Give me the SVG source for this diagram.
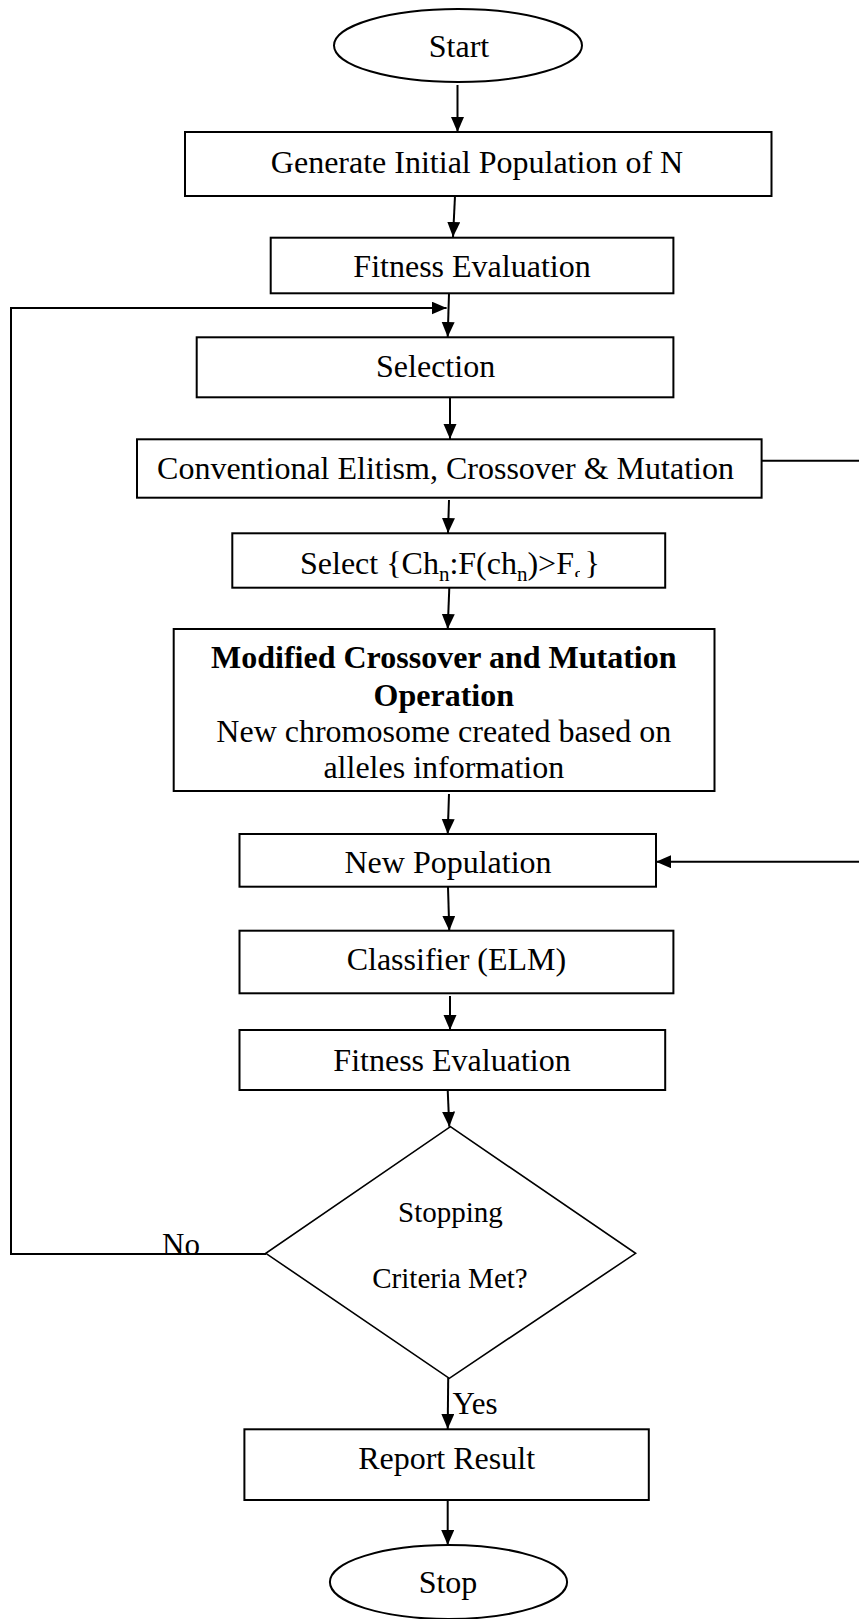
<svg xmlns="http://www.w3.org/2000/svg" width="859" height="1619" viewBox="0 0 859 1619">
  <style>
    .box { fill: #fff; stroke: #000; stroke-width: 2; }
    .dia { fill: #fff; stroke: #000; stroke-width: 1.6; }
    .lbl { font-family: "Liberation Serif", "Times New Roman", serif; font-size: 32px; fill: #000; text-anchor: middle; }
    .bold { font-weight: bold; }
    .small { font-size: 29px; }
    .sub { font-size: 21px; }
    .wire { fill: none; stroke: #000; stroke-width: 2; }
  </style>
  <defs>
    <marker id="arrow" markerUnits="userSpaceOnUse" markerWidth="16" markerHeight="14" refX="15" refY="6.5" orient="auto">
      <path d="M0,0 L15,6.5 L0,13 Z" fill="#000"/>
    </marker>
    <clipPath id="subClip">
      <rect x="520" y="560" width="60" height="17"/>
    </clipPath>
  </defs>

  <!-- connectors -->
  <g id="connectors">
    <line class="wire" x1="457.5" y1="85" x2="457.5" y2="132" marker-end="url(#arrow)"/>
    <line class="wire" x1="455" y1="196" x2="453" y2="237" marker-end="url(#arrow)"/>
    <line class="wire" x1="449" y1="293" x2="447.7" y2="337" marker-end="url(#arrow)"/>
    <line class="wire" x1="450" y1="397" x2="450" y2="439" marker-end="url(#arrow)"/>
    <line class="wire" x1="449" y1="500" x2="448" y2="533" marker-end="url(#arrow)"/>
    <line class="wire" x1="449.3" y1="588" x2="447.7" y2="629" marker-end="url(#arrow)"/>
    <line class="wire" x1="449" y1="794" x2="447.7" y2="834" marker-end="url(#arrow)"/>
    <line class="wire" x1="448" y1="887" x2="449.3" y2="930.7" marker-end="url(#arrow)"/>
    <line class="wire" x1="450" y1="996" x2="450" y2="1030" marker-end="url(#arrow)"/>
    <line class="wire" x1="447.7" y1="1090" x2="449.3" y2="1126.7" marker-end="url(#arrow)"/>
    <line class="wire" x1="448.2" y1="1378" x2="447.7" y2="1429" marker-end="url(#arrow)"/>
    <line class="wire" x1="447.7" y1="1500" x2="447.7" y2="1545" marker-end="url(#arrow)"/>
    <!-- "No" loop back to selection -->
    <polyline class="wire" points="266,1254 11,1254 11,308 446.6,308" marker-end="url(#arrow)"/>
    <!-- side route from conventional operators to new population -->
    <line class="wire" x1="761.6" y1="460.7" x2="859" y2="460.7"/>
    <line class="wire" x1="859" y1="861.7" x2="656" y2="861.7" marker-end="url(#arrow)"/>
  </g>

  <g id="start">
    <ellipse class="box" cx="458" cy="45.5" rx="124" ry="36.5"/>
    <text class="lbl" x="459" y="57">Start</text>
  </g>

  <g id="generate">
    <rect class="box" x="185" y="132" width="586.5" height="64"/>
    <text class="lbl" x="477" y="173">Generate Initial Population of N</text>
  </g>

  <g id="fitness1">
    <rect class="box" x="270.7" y="237.7" width="402.7" height="55.6"/>
    <text class="lbl" x="472" y="277">Fitness Evaluation</text>
  </g>

  <g id="selection">
    <rect class="box" x="196.7" y="337.3" width="476.7" height="60"/>
    <text class="lbl" x="435.6" y="377">Selection</text>
  </g>

  <g id="conventional">
    <rect class="box" x="137" y="439.3" width="624.6" height="58.4"/>
    <text class="lbl" x="445.5" y="479">Conventional Elitism, Crossover &amp; Mutation</text>
  </g>

  <g id="select-chn">
    <rect class="box" x="232.3" y="533.3" width="432.9" height="54.4"/>
    <text class="lbl" x="300" y="574" style="text-anchor:start">Select {Ch<tspan class="sub" dy="7">n</tspan><tspan dy="-7">:F(ch</tspan><tspan class="sub" dy="7">n</tspan><tspan dy="-7">)&gt;F</tspan><tspan class="sub" dy="7" clip-path="url(#subClip)">g</tspan><tspan dy="-7">}</tspan></text>
  </g>

  <g id="modified">
    <rect class="box" x="173.7" y="629" width="540.8" height="162"/>
    <text class="lbl bold" x="443.8" y="668">Modified Crossover and Mutation</text>
    <text class="lbl bold" x="443.8" y="706">Operation</text>
    <text class="lbl" x="443.8" y="742">New chromosome created based on</text>
    <text class="lbl" x="443.8" y="778">alleles information</text>
  </g>

  <g id="new-population">
    <rect class="box" x="239.5" y="834" width="416.5" height="52.7"/>
    <text class="lbl" x="448" y="873">New Population</text>
  </g>

  <g id="classifier">
    <rect class="box" x="239.5" y="930.7" width="433.9" height="62.6"/>
    <text class="lbl" x="456.4" y="970">Classifier (ELM)</text>
  </g>

  <g id="fitness2">
    <rect class="box" x="239.5" y="1030" width="425.7" height="60"/>
    <text class="lbl" x="452" y="1071">Fitness Evaluation</text>
  </g>

  <g id="stopping">
    <polygon class="dia" points="450.4,1126.7 635.6,1253.3 449.3,1378.3 265.8,1253.3"/>
    <text class="lbl small" x="450.4" y="1222">Stopping</text>
    <text class="lbl small" x="450" y="1288">Criteria Met?</text>
    <text class="lbl" x="181" y="1255" style="font-size:31px">No</text>
    <text class="lbl" x="475" y="1414" style="font-size:31px">Yes</text>
  </g>

  <g id="report">
    <rect class="box" x="244.4" y="1429.3" width="404.4" height="70.7"/>
    <text class="lbl" x="446.6" y="1469">Report Result</text>
  </g>

  <g id="stop">
    <ellipse class="box" cx="448.5" cy="1582" rx="118.6" ry="37"/>
    <text class="lbl" x="448" y="1593">Stop</text>
  </g>
</svg>
